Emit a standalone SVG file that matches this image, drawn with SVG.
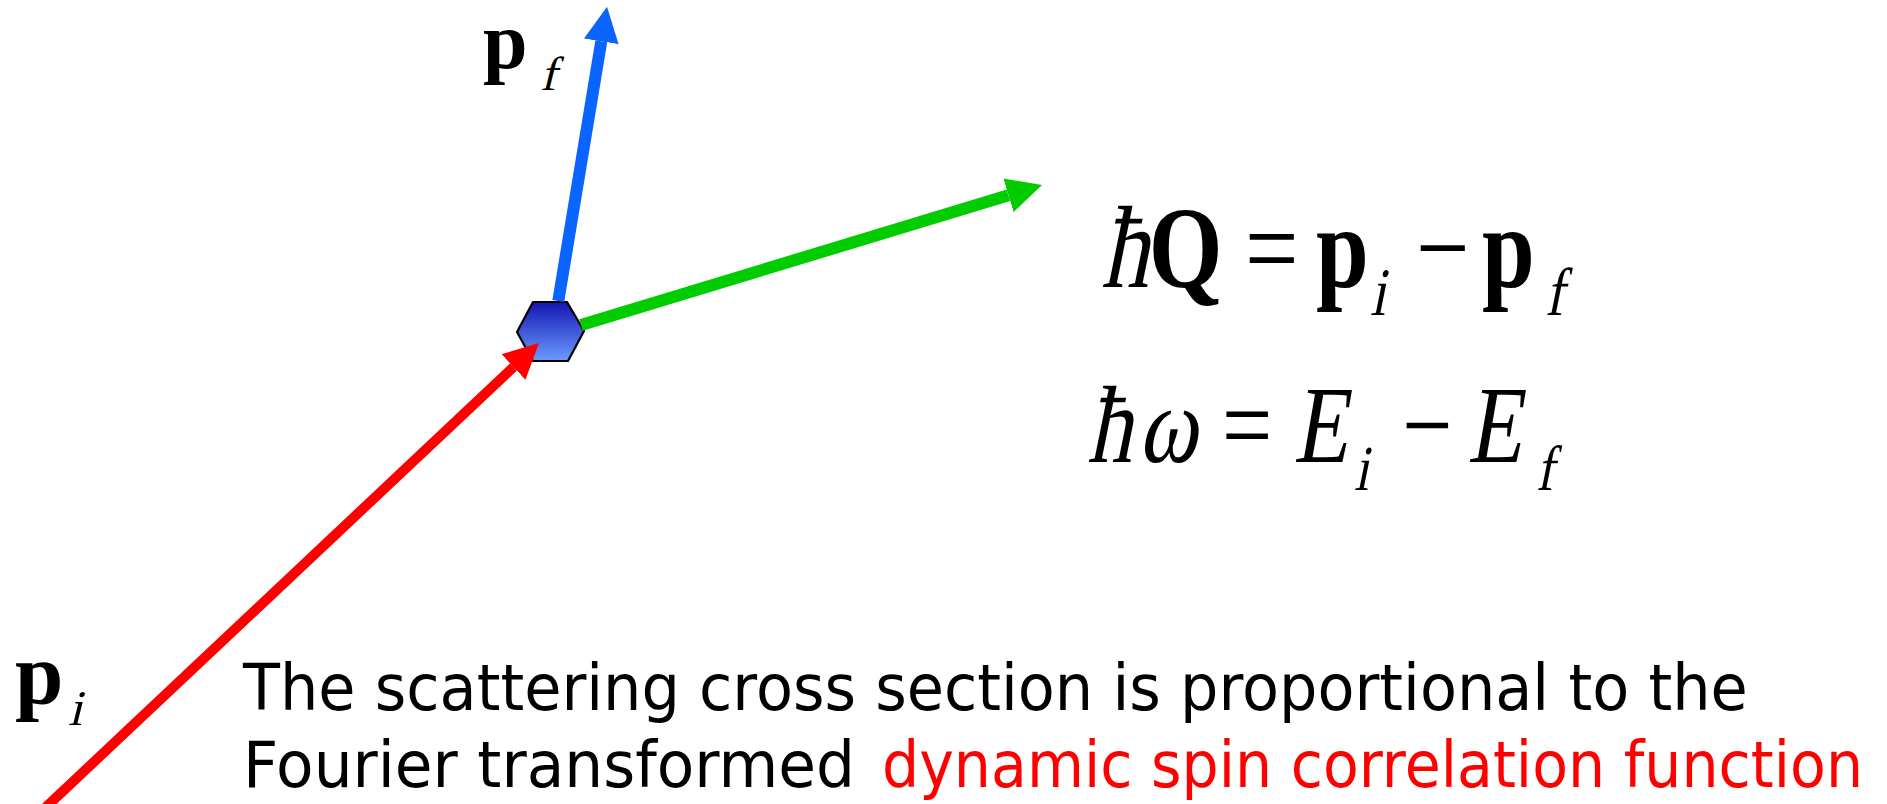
<svg xmlns="http://www.w3.org/2000/svg" width="1887" height="804" viewBox="0 0 1887 804">
<style>
.math{font-family:"Liberation Serif","Times New Roman",serif;fill:#000}
.b{font-weight:bold}
.body{font-family:"DejaVu Sans","Liberation Sans",sans-serif;font-size:64px}
</style>
<defs>
<linearGradient id="hexg" x1="0" y1="0" x2="0" y2="1">
<stop offset="0" stop-color="#1515b0"/>
<stop offset="1" stop-color="#6a9cff"/>
</linearGradient>
<marker id="mb" viewBox="0 -18 36 36" markerWidth="36" markerHeight="36" refX="0" refY="0" orient="auto" markerUnits="userSpaceOnUse"><path d="M0,-17.5 L35,0 L0,17.5 Z" fill="#0a64ff"/></marker>
<marker id="mg" viewBox="0 -18 36 36" markerWidth="36" markerHeight="36" refX="0" refY="0" orient="auto" markerUnits="userSpaceOnUse"><path d="M0,-17.5 L35,0 L0,17.5 Z" fill="#00cc00"/></marker>
<marker id="mr" viewBox="0 -18 36 36" markerWidth="36" markerHeight="36" refX="0" refY="0" orient="auto" markerUnits="userSpaceOnUse"><path d="M0,-17.5 L35,0 L0,17.5 Z" fill="#ff0000"/></marker>
</defs>
<rect width="1887" height="804" fill="#fff"/>
<g id="scatterer">
<polygon points="533,302 567,302 584,331 568,361 533,361 517,332" fill="url(#hexg)" stroke="#000" stroke-width="2.2" stroke-linejoin="round"/>
</g>
<g id="connectors" fill="none">
<line x1="558.3" y1="301" x2="601.3" y2="41.3" stroke="#0a64ff" stroke-width="12" marker-end="url(#mb)"/>
<line x1="581" y1="325" x2="1008.5" y2="195.2" stroke="#00cc00" stroke-width="12" marker-end="url(#mg)"/>
<line x1="45" y1="808" x2="513.5" y2="367" stroke="#ff0000" stroke-width="10" marker-end="url(#mr)"/>
</g>
<g id="label-pf">
<text class="math b" x="483" y="68" font-size="80">p</text>
<g transform="translate(540,90) skewX(-14)"><text class="math" x="0" y="0" font-size="48">f</text></g>
</g>
<g id="label-pi">
<text class="math b" x="15" y="703" font-size="87">p</text>
<g transform="translate(68,725) skewX(-14)"><text class="math" x="0" y="0" font-size="50">i</text></g>
</g>
<g id="eq-momentum" transform="translate(1100,0) scale(0.81,1)">
<g transform="translate(1.2,287) skewX(-14)"><text class="math" x="0" y="0" font-size="117">ħ</text></g>
<text class="math b" x="60.1" y="287" font-size="117">Q</text>
<text class="math" x="178.9" y="287" font-size="117">=</text>
<text class="math b" x="266.7" y="287" font-size="117">p</text>
<g transform="translate(333.3,315) skewX(-14)"><text class="math" x="0" y="0" font-size="68">i</text></g>
<text class="math" x="390.1" y="287" font-size="117">−</text>
<text class="math b" x="471.6" y="287" font-size="117">p</text>
<g transform="translate(549.4,315) skewX(-14)"><text class="math" x="0" y="0" font-size="68">f</text></g>
</g>
<g id="eq-energy" transform="translate(1085,0) scale(0.81,1)">
<g transform="translate(2.5,462) skewX(-14)"><text class="math" x="0" y="0" font-size="110">ħ</text></g>
<g transform="translate(65.4,462) skewX(-14)"><text class="math" x="0" y="0" font-size="110">ω</text></g>
<text class="math" x="169.1" y="462" font-size="110">=</text>
<g transform="translate(257,462) skewX(-12)"><text class="math" x="0" y="0" font-size="110">E</text></g>
<g transform="translate(332.1,490) skewX(-14)"><text class="math" x="0" y="0" font-size="64">i</text></g>
<text class="math" x="391.4" y="462" font-size="110">−</text>
<g transform="translate(472,462) skewX(-12)"><text class="math" x="0" y="0" font-size="110">E</text></g>
<g transform="translate(556.8,490) skewX(-14)"><text class="math" x="0" y="0" font-size="64">f</text></g>
</g>
<g id="caption">
<text class="body" transform="translate(243,710) scale(0.944,1)" x="0" y="0" fill="#000" textLength="1594" lengthAdjust="spacingAndGlyphs">The scattering cross section is proportional to the</text>
<text class="body" transform="translate(243,787) scale(0.954,1)" x="0" y="0" fill="#000" textLength="641.5" lengthAdjust="spacingAndGlyphs">Fourier transformed</text>
<text class="body" transform="translate(882,787) scale(0.913,1)" x="0" y="0" fill="#ff0000" textLength="1074.5" lengthAdjust="spacingAndGlyphs">dynamic spin correlation function</text>
</g>
</svg>
